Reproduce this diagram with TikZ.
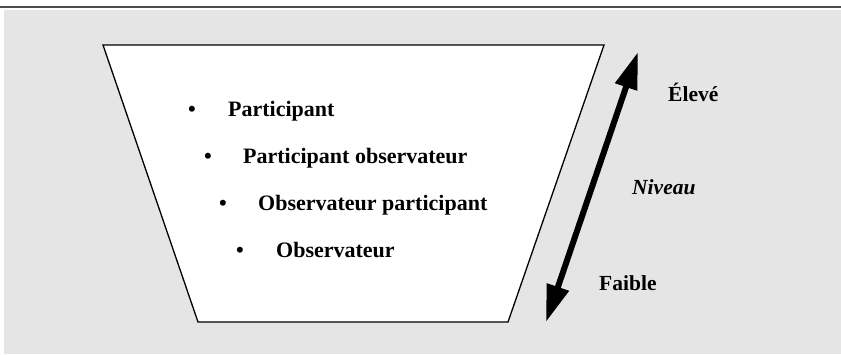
\documentclass[tikz,border=0pt]{standalone}
\usepackage{fontspec}
\setmainfont{Liberation Serif}
\usetikzlibrary{arrows.meta}
\begin{document}
\begin{tikzpicture}[x=1pt,y=-1pt,
  lbl/.style={anchor=base west,inner sep=0pt,font=\fontsize{22}{26}\selectfont\bfseries},
  bul/.style={anchor=base west,inner sep=0pt,font=\fontsize{22}{26}\selectfont\bfseries},
  side/.style={anchor=base west,inner sep=0pt,font=\fontsize{21.5}{25}\selectfont\bfseries}]
\useasboundingbox (0,0) rectangle (841,354);
\fill[white] (0,0) rectangle (841,354);
\fill[black!10] (4,9.5) rectangle (841,354);
\draw[black!70,line width=1.5pt] (0,7) -- (841,7);
\coordinate (tl) at (103,45);
\coordinate (tr) at (604,45);
\coordinate (br) at (508,322);
\coordinate (bl) at (198,322);
\draw[fill=white,line width=1.3pt,line join=miter] (tl) -- (tr) -- (br) -- (bl) -- cycle;
\node[bul] (b1) at (188,116) {\textbullet};
\node[lbl] (t1) at (228,116) {Participant};
\node[bul] (b2) at (204,163) {\textbullet};
\node[lbl] (t2) at (243,163) {Participant observateur};
\node[bul] (b3) at (219,210) {\textbullet};
\node[lbl] (t3) at (258,210) {Observateur participant};
\node[bul] (b4) at (236,257) {\textbullet};
\node[lbl] (t4) at (276,257) {Observateur};
\coordinate (lo) at (546,322);
\coordinate (hi) at (638,52);
\draw[line width=6pt,{Triangle[length=37pt,width=22pt]}-{Triangle[length=37pt,width=22pt]}] (lo) -- (hi);
\node[side] (hiLbl) at (668,101) {Élevé};
\node[anchor=base west,inner sep=0pt,font=\fontsize{21.5}{25}\selectfont\bfseries\itshape] (mid) at (632,194) {Niveau};
\node[side] (loLbl) at (599,290) {Faible};
\end{tikzpicture}
\end{document}
